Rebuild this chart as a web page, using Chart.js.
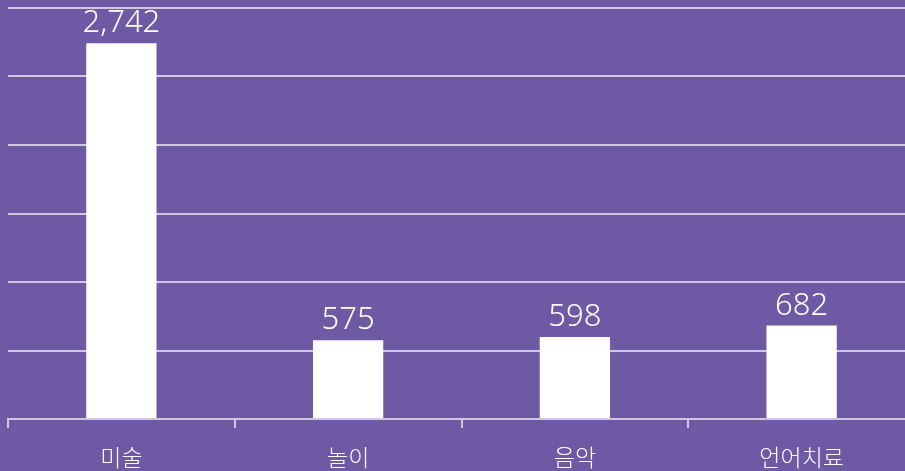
<!DOCTYPE html>
<html>
<head>
<meta charset="utf-8">
<script src="https://cdn.jsdelivr.net/npm/chart.js@4"></script>
<style>
  html, body { margin: 0; padding: 0; background: #6d59a4; overflow: hidden; }
  #wrap { position: relative; width: 915px; height: 471px; }
</style>
</head>
<body>
<div id="wrap"><canvas id="myChart"></canvas></div>
<script>
// categories and values
var categories = ['미술', '놀이', '음악', '언어치료'];
var counts = [2742, 575, 598, 682];

var lineColor = '#cfc8e0';

// draw the value above each bar
var valueLabels = {
    id: 'valueLabels',
    afterDatasetsDraw: function(chart) {
        var ctx = chart.ctx;
        var meta = chart.getDatasetMeta(0);
        ctx.save();
        ctx.fillStyle = '#ffffff';
        ctx.font = '300 31px "Noto Sans", sans-serif';
        ctx.textAlign = 'center';
        ctx.textBaseline = 'alphabetic';
        meta.data.forEach(function(bar, i) {
            ctx.fillText(counts[i].toLocaleString('en-US'), bar.x, bar.y - 11);
        });
        ctx.restore();
    }
};

var ctx = document.getElementById('myChart').getContext('2d');
new Chart(ctx, {
    type: 'bar',
    data: {
        labels: categories,
        datasets: [
            {
                data: counts,
                backgroundColor: '#ffffff',
                borderWidth: 0,
                barPercentage: 0.31,
                categoryPercentage: 1
            }
        ]
    },
    options: {
        responsive: true,
        maintainAspectRatio: false,
        animation: false,
        layout: {
            padding: { left: 8, top: 8, right: 0, bottom: 0 }
        },
        scales: {
            x: {
                grid: {
                    display: true,
                    offset: true,
                    drawOnChartArea: false,
                    drawTicks: true,
                    tickLength: 9,
                    color: lineColor,
                    lineWidth: 2
                },
                border: { display: true, color: lineColor, width: 2 },
                ticks: {
                    color: '#ffffff',
                    padding: 15,
                    font: { family: '"Noto Sans CJK KR", sans-serif', size: 23, weight: '300' }
                },
                afterFit: function(scale) { scale.height = 52; }
            },
            y: {
                min: 0,
                max: 3000,
                ticks: { display: false, stepSize: 500 },
                grid: { color: lineColor, lineWidth: 2, drawTicks: false },
                border: { display: false },
                afterFit: function(scale) { scale.width = 0; }
            }
        },
        plugins: {
            legend: { display: false },
            tooltip: { enabled: false }
        }
    },
    plugins: [valueLabels]
});
</script>
</body>
</html>
